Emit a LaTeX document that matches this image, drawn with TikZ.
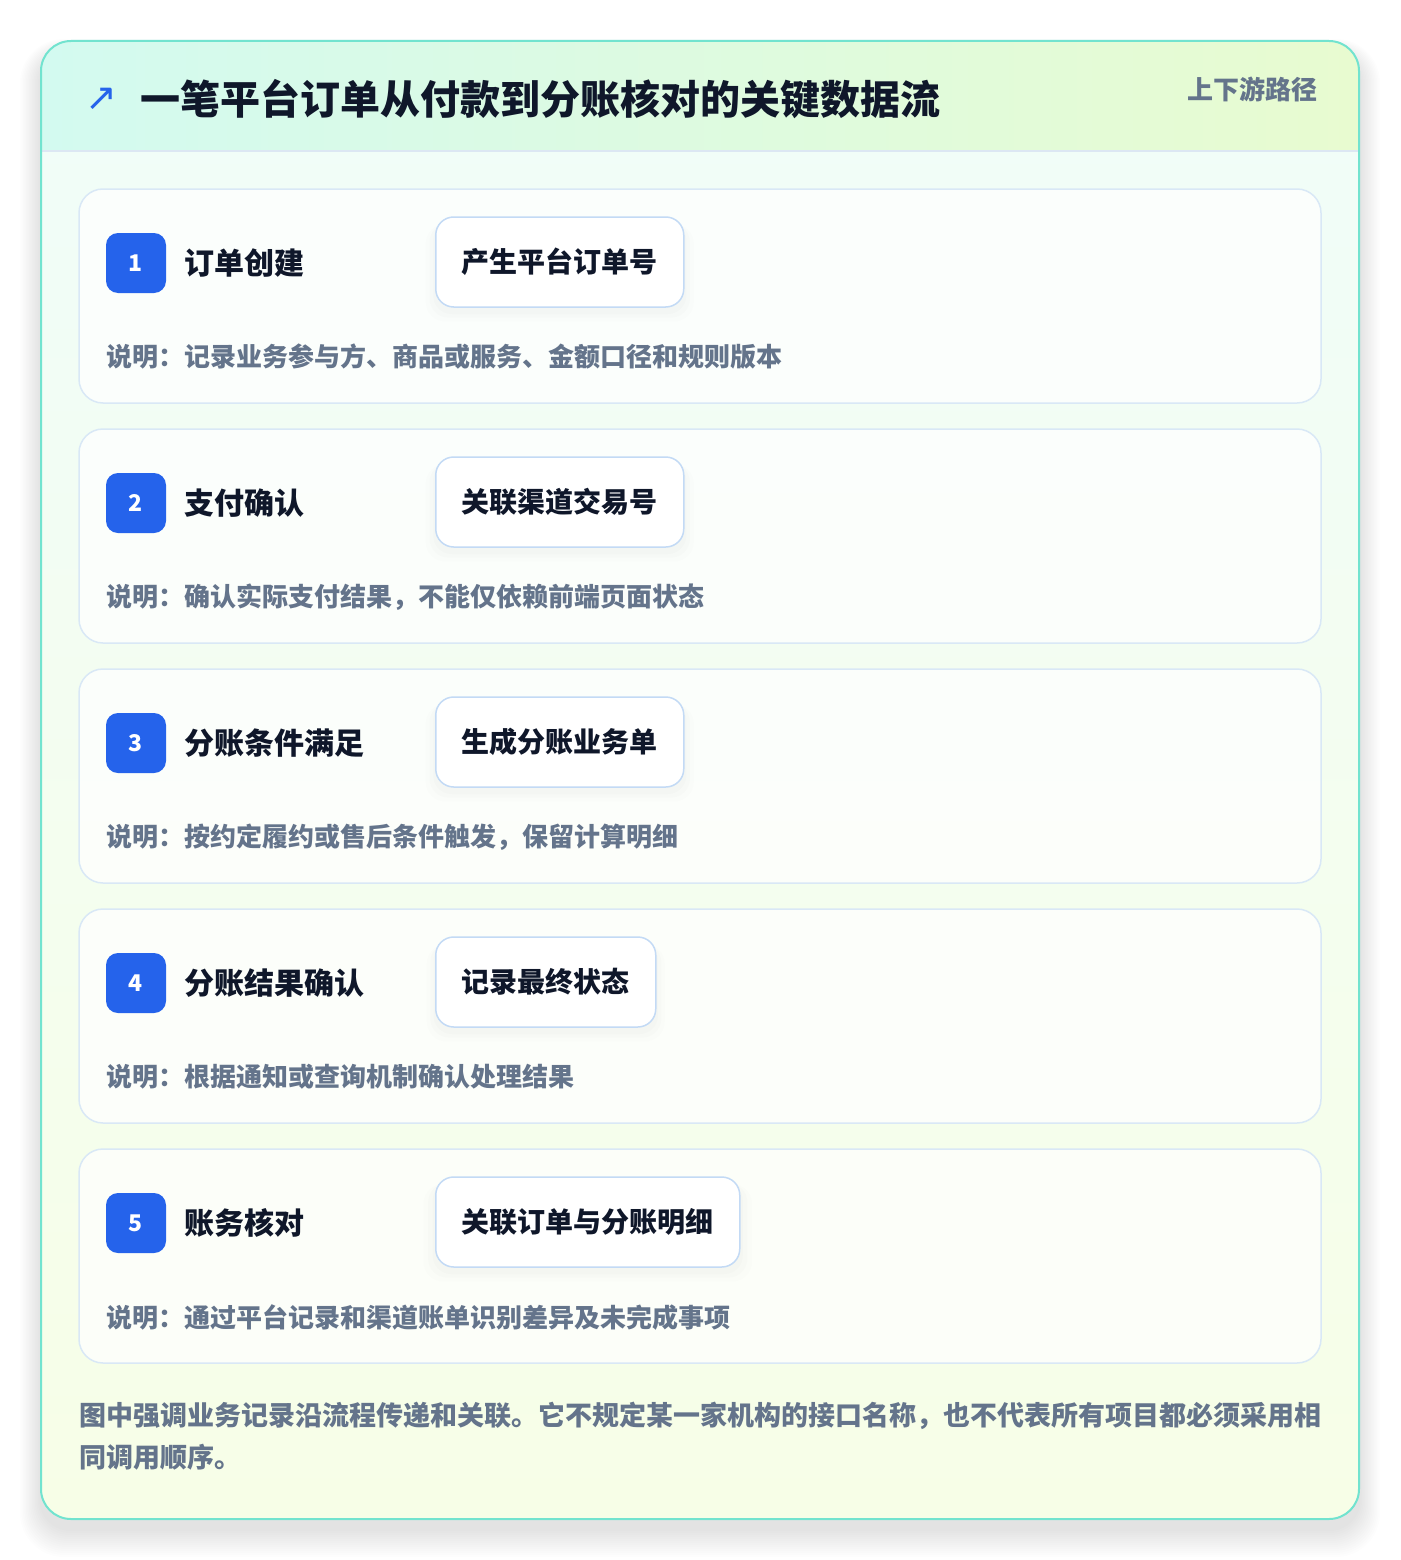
\documentclass[tikz,border=0pt]{standalone}
\usepackage{fontspec}
\usepackage{xcolor}
\usepackage{tikz}
\usetikzlibrary{positioning,shadows}
\newfontfamily\cjk{Noto Sans CJK SC}
\newfontfamily\symfont{DejaVu Sans}

\definecolor{frameteal}{HTML}{72E3CF}
\definecolor{headleft}{HTML}{D3FAF0}
\definecolor{headright}{HTML}{E8FBD0}
\definecolor{bodytop}{HTML}{F0FDF9}
\definecolor{bodybottom}{HTML}{F7FEE7}
\definecolor{lineblue}{HTML}{DCE7F3}
\definecolor{cardline}{HTML}{D9E8F6}
\definecolor{tagline}{HTML}{C3DAF5}
\definecolor{badgeblue}{HTML}{2563EB}
\definecolor{inkdark}{HTML}{0F172A}
\definecolor{inkgray}{HTML}{64748B}

\tikzset{
  stepcard/.style={draw=cardline, line width=1.5pt, fill=white, fill opacity=0.75, rounded corners=24pt},
  badge/.style={rectangle, fill=badgeblue, rounded corners=12pt, minimum size=60pt, inner sep=0pt,
    text=white, font=\cjk\bfseries\fontsize{23}{26}\selectfont},
  steptitle/.style={anchor=west, text=inkdark, inner sep=0pt, font=\cjk\bfseries\fontsize{30}{36}\selectfont},
  tagbox/.style={anchor=west, draw=tagline, line width=1.5pt, fill=white, rounded corners=18pt,
    minimum height=90pt, inner xsep=26pt, text=inkdark, font=\cjk\bfseries\fontsize{28}{34}\selectfont,
    drop shadow={shadow xshift=0pt, shadow yshift=-10pt, opacity=0.015, shadow scale=1.08},
    drop shadow={shadow xshift=0pt, shadow yshift=-8pt, opacity=0.02, shadow scale=1.05},
    drop shadow={shadow xshift=0pt, shadow yshift=-6pt, opacity=0.025, shadow scale=1.02}},
  steptext/.style={anchor=west, text=inkgray, inner sep=0pt, font=\cjk\bfseries\fontsize{26}{30}\selectfont},
}

\begin{document}
\begin{tikzpicture}[x=1pt, y=-1pt]
  \useasboundingbox (0,0) rectangle (1400,1560);
  % soft shadow under the outer card
  \foreach \s in {1,...,14}
    \fill[black, opacity=0.007, rounded corners=30pt+\s pt] (41-\s*1.5,41+12-\s) rectangle (1359+\s*1.5,1519+10+\s*2);
  % outer card body
  \path[rounded corners=30pt, top color=bodytop, bottom color=bodybottom] (41,41) rectangle (1359,1519);
  % header band, clipped to the card
  \begin{scope}
    \clip[rounded corners=30pt] (41,41) rectangle (1359,1519);
    \path[left color=headleft, right color=headright] (41,41) rectangle (1359,151);
    \draw[lineblue, line width=1.5pt] (41,151) -- (1359,151);
  \end{scope}
  \draw[frameteal, line width=2pt, rounded corners=30pt] (41,41) rectangle (1359,1519);
  % header texts
  \node[text=badgeblue, inner sep=0pt, font=\symfont\fontsize{38}{42}\selectfont] (icon) at (101,99) {↗};
  \node[anchor=west, text=inkdark, inner sep=0pt, font=\cjk\bfseries\fontsize{40}{46}\selectfont] (title) at (140,99) {一笔平台订单从付款到分账核对的关键数据流};
  \node[anchor=east, text=inkgray, inner sep=0pt, font=\cjk\bfseries\fontsize{26}{30}\selectfont] (path) at (1318,89) {上下游路径};
  % the five steps
  \foreach \i/\name/\tag/\desc in {
      1/订单创建/产生平台订单号/记录业务参与方、商品或服务、金额口径和规则版本,
      2/支付确认/关联渠道交易号/确认实际支付结果，不能仅依赖前端页面状态,
      3/分账条件满足/生成分账业务单/按约定履约或售后条件触发，保留计算明细,
      4/分账结果确认/记录最终状态/根据通知或查询机制确认处理结果,
      5/账务核对/关联订单与分账明细/通过平台记录和渠道账单识别差异及未完成事项} {
    \pgfmathsetmacro{\top}{189+240*(\i-1)}
    \draw[stepcard] (79,\top) rectangle (1321,\top+214);
    \node[badge] (badge\i) at (136,\top+74) {\i};
    \node[steptitle] (name\i) at (184,\top+74) {\name};
    \node[tagbox] (tag\i) at (435,\top+73) {\tag};
    \node[steptext] (desc\i) at (106,\top+168) {说明：\desc};
  }
  % closing remark
  \node[anchor=north west, text=inkgray, inner sep=0pt, align=left,
    font=\cjk\bfseries\fontsize{27}{42}\selectfont] (remark) at (79,1402)
    {图中强调业务记录沿流程传递和关联。它不规定某一家机构的接口名称，也不代表所有项目都必须采用相\\同调用顺序。};
\end{tikzpicture}
\end{document}
